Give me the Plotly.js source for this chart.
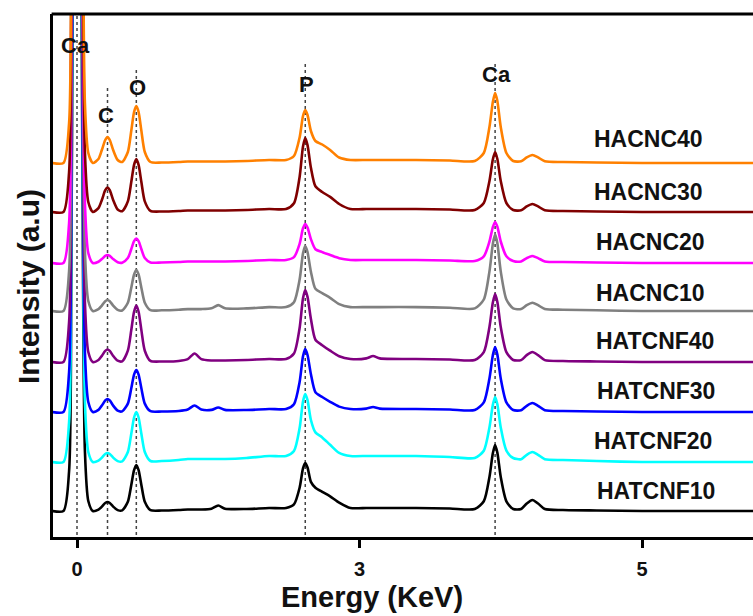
<!DOCTYPE html>
<html>
<head>
<meta charset="utf-8">
<script src="https://cdn.plot.ly/plotly-3.0.1.min.js"></script>
<style>html,body{margin:0;padding:0;background:#fff;overflow:hidden}#chart{width:753px;height:616px}</style>
</head>
<body>
<div id="chart"></div>
<script>
// Energy sample points (keV)
const energy = [-0.22,-0.12,-0.07,-0.05,-0.03,0,0.03,0.05,0.07,0.10,0.14,0.19,0.22,0.25,0.27,0.29,0.32,0.36,0.40,0.45,0.48,0.505,0.525,0.545,0.57,0.60,0.65,0.75,0.9,0.98,1.04,1.10,1.19,1.25,1.31,1.5,1.7,1.85,1.92,1.97,2.00,2.02,2.04,2.07,2.11,2.17,2.24,2.32,2.42,2.56,2.62,2.68,3.0,3.3,3.52,3.60,3.65,3.68,3.70,3.72,3.75,3.80,3.86,3.93,3.98,4.03,4.08,4.14,4.3,4.6,5.0,5.5,6.0];

// Stacked intensities (a.u.)
const HACNC40 = [374,374,414,624,1074,1774,1124,674,434,384,374,378,387,397,400,397,387,377,375,385,406,425,431,425,406,385,375,374.5,375,375.5,375.5,375.5,375.5,375.5,375.5,376,377,377,381,399.5,421,427,422,406,396,392.5,387,379.5,377,377,377,377,377,376.5,376,384,410,435,444,436,410,384,376,375.7,379.6,382,379.6,375.7,375,374.5,374,374,374];
const HACNC30 = [325,325,365,575,1025,1725,1075,625,385,335,325,328.9,337,346.8,349.5,346.8,337,327.5,325.8,335.6,354.7,372.2,378,372.2,354.7,335.6,326.1,325.5,326,326.5,326.5,326.5,326.5,326.5,326.5,327,328,328,333.7,360,390.5,399,391.9,369.2,350.7,345,340.1,333,328,328,328,328,328,327.5,327,334,356,377.5,385,378,356,334,327,326.7,330.6,333,330.6,326.7,326,325.5,325,325,325];
const HACNC20 = [274,274,314,524,974,1674,1024,574,334,284,274,275.3,277.9,281.1,282,281.1,277.9,274.8,274.3,278.9,287.7,295.8,298.5,295.8,287.7,278.9,274.5,274.5,275,275.5,275.5,275.5,275.5,275.5,275.5,276,277,277,279.9,293.2,308.7,313,309.4,297.9,287.8,284.9,282,278.8,277,277,277,277,277,276.5,276,280.7,295.5,309.9,315,310.3,295.5,280.7,276,275.6,278.9,281,278.9,275.6,275,274.5,274,274,274];
const HACNC10 = [226,226,266,476,926,1626,976,526,286,236,226,227.8,231.4,235.8,237,235.8,231.4,227.1,226.5,234.2,249,262.5,267,262.5,249,234.2,226.8,226.7,227.3,227.9,227.9,227.9,228.7,231.9,228.7,228.6,229.9,229.9,234.8,257.4,283.6,290.9,284.8,265.3,248.2,243.9,239.1,232.9,229.9,229.9,229.9,229.9,229.9,229.3,228.6,237.5,265.6,293,302.6,293.7,265.6,237.5,228.6,228,231.9,234.3,231.9,228,227.3,226.7,226,226,226];
const HATCNF40 = [175,175,215,425,875,1575,925,475,235,185,175,177,181.1,186.1,187.5,186.1,181.1,176.3,175.7,186.3,206.6,225.3,231.5,225.3,206.6,186.3,176.1,175.5,176,177.9,183.5,177.9,176.5,176.5,176.5,177,178,178,183.5,209,238.7,247,240.1,218,197.3,191.8,186.3,180.8,178,178.6,181,178.6,178,177.5,177,184.9,210,234.4,243,235.1,210,184.9,177,176.9,181.9,185,181.9,176.9,176,175.5,175,175,175];
const HATCNF30 = [125,125,165,375,825,1525,875,425,185,135,125,127.1,131.4,136.6,138,136.6,131.4,126.3,125.6,133.4,148.5,162.4,167,162.4,148.5,133.4,125.8,125.5,126,127.5,131.5,127.5,127.1,129.5,127.1,127,128,128,132.8,155,180.8,188,182,162.8,144.8,140,135.2,130.4,128,128.4,130,128.4,128,127.5,127,134.6,158.5,181.8,190,182.4,158.5,134.6,127,126.8,131.2,134,131.2,126.8,126,125.5,125,125,125];
const HATCNF20 = [75,75,115,325,775,1475,825,375,135,85,75,76.4,79.4,83,84,83,79.4,75.9,75.6,85,103,119.5,125,119.5,103,85,76,76,77,78,78,78,78,78,78,79,81,81,86,108.9,135.6,143,136.8,117,104.6,99.6,92.2,84.1,81,81,81,81,81,80,79,86.3,109.5,132.1,140,132.7,109.5,86.3,79,77.8,82.2,85,82.2,77.8,77,76,75,75,75];
const HATCNF10 = [26,26,66,276,726,1426,776,326,86,36,26,27.4,30.4,34,35,34,30.4,26.9,26.6,35.2,51.8,66.9,72,66.9,51.8,35.2,26.9,26.5,27,27.5,27.5,27.5,28.3,31.5,28.3,28,29,29,32.6,49.3,68.6,74,69.5,55.1,49.3,45.2,40.7,34.4,29,29,29,29,29,28.5,28,35.7,60,83.7,92,84.3,60,35.7,28,28,33.5,37,33.5,28,27,26.5,26,26,26];

const sampleNames = ["HACNC40","HACNC30","HACNC20","HACNC10","HATCNF40","HATCNF30","HATCNF20","HATCNF10"];
const seriesValues = [HACNC40,HACNC30,HACNC20,HACNC10,HATCNF40,HATCNF30,HATCNF20,HATCNF10];

// Element peak markers
const peakEnergies = [0, 0.27, 0.525, 2.02, 3.70];
const peakLabels = ["Ca","C","O","P","Ca"];

// Axis ticks
const tickValues = [0, 2.5, 5];
const tickLabels = ["0","3","5"];

// Styling (not data)
const colors = ["#FF8000","#800000","#FF00FF","#808080","#800080","#0000FF","#00FFFF","#000000"];
const FONT = "Liberation Sans, Arial, Helvetica, sans-serif";
const X0 = 77, PXK = 113, L = 53, PW = 700, PBOT = 537, PH = 523;
const xd = px => (px - X0) / PXK;
const yd = py => PBOT - py;

const traces = seriesValues.map((vals, i) => ({
  x: energy, y: vals, type: "scatter", mode: "lines", name: sampleNames[i],
  line: {color: colors[i], width: 2.6, shape: "spline", smoothing: 0.7},
  showlegend: false, hoverinfo: "skip"
})).reverse();

const lineTops = [523, 449, 470, 476, 476];
const shapes = peakEnergies.map((e, i) => ({
  type: "line", xref: "x", yref: "y", x0: e, x1: e, y0: 2, y1: lineTops[i],
  line: {color: "#444", width: 1.5, dash: "dot"}, layer: "below"
}));
shapes.push({type: "line", xref: "paper", yref: "paper", x0: -0.002, x1: 1.01, y0: 1, y1: 1,
  line: {color: "#000", width: 3}});

const peakLabelPos = [[75,45],[106,115],[137,87],[306,84],[496,74]];
const annotations = peakLabels.map((t, i) => ({
  x: xd(peakLabelPos[i][0]), y: yd(peakLabelPos[i][1]), xref: "x", yref: "y",
  text: t, showarrow: false, xanchor: "center", yanchor: "middle",
  font: {family: FONT, size: 22, weight: "bold", color: "#111"}
}));
const namePos = [[648,139],[648,192],[650,242],[650,293],[655,341],[656,391],[653,441],[656,491]];
sampleNames.forEach((n, i) => annotations.push({
  x: xd(namePos[i][0]), y: yd(namePos[i][1]), xref: "x", yref: "y",
  text: n, showarrow: false, xanchor: "center", yanchor: "middle",
  font: {family: FONT, size: 23, weight: "bold", color: "#111"}
}));
annotations.push({
  x: (28 - L) / PW, y: (PBOT - 287) / PH, xref: "paper", yref: "paper",
  text: "Intensity (a.u)", textangle: -90, showarrow: false, xanchor: "center", yanchor: "middle",
  font: {family: FONT, size: 30, weight: "bold", color: "#111"}
});
annotations.push({
  x: (372 - L) / PW, y: (PBOT - 597) / PH, xref: "paper", yref: "paper",
  text: "Energy (KeV)", showarrow: false, xanchor: "center", yanchor: "middle",
  font: {family: FONT, size: 29, weight: "bold", color: "#111"}
});

const layout = {
  width: 753, height: 616,
  margin: {l: L, r: 0, t: 14, b: 616 - PBOT, pad: 0},
  paper_bgcolor: "#fff", plot_bgcolor: "#fff",
  xaxis: {
    range: [xd(L), xd(L + PW)], showgrid: false, zeroline: false,
    showline: true, linecolor: "#000", linewidth: 3,
    ticks: "outside", ticklen: 8, tickwidth: 3, tickcolor: "#000",
    ticklabelstandoff: 4,
    tickvals: tickValues, ticktext: tickLabels,
    tickfont: {family: FONT, size: 20, weight: "bold", color: "#111"}
  },
  yaxis: {
    range: [0, PH], showgrid: false, zeroline: false,
    showline: true, linecolor: "#000", linewidth: 3,
    ticks: "", showticklabels: false
  },
  shapes: shapes, annotations: annotations
};

Plotly.newPlot("chart", traces, layout, {displayModeBar: false, staticPlot: true});
</script>
</body>
</html>
